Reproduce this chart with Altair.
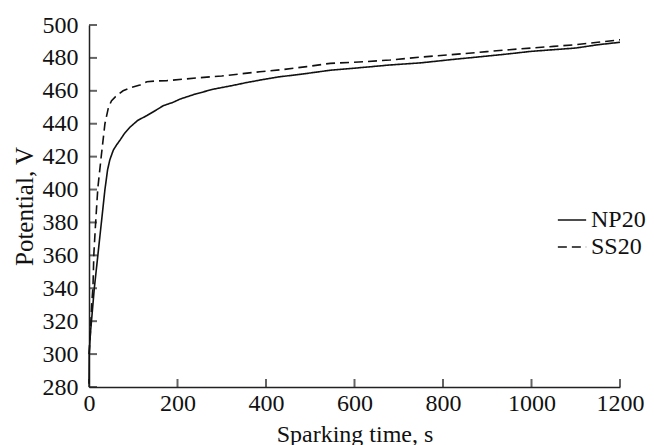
import altair as alt
import pandas as pd

# Series
np20_time = [0, 0.5, 3, 12, 20, 28, 36, 42, 47, 55, 62, 70, 80, 93, 110, 131, 150, 168, 190, 206, 240, 281, 320, 356, 386, 430, 477, 545, 610, 680, 750, 820, 884, 950, 1000, 1050, 1100, 1150, 1200]
np20_pot = [282, 300, 312, 340, 360, 380, 400, 412, 418, 424, 427, 430, 434, 438, 442, 445, 448, 451, 453, 455, 458, 461, 463, 465, 466.5, 468.5, 470, 472.5, 474, 475.7, 477, 479, 480.7, 482.5, 484, 485, 486, 488, 489.5]

ss20_time = [0, 3, 6, 9, 11, 15, 20, 28, 36, 44, 51, 60, 77, 95, 115, 131, 150, 176, 210, 251, 300, 386, 440, 492, 545, 610, 680, 750, 820, 899, 950, 1000, 1050, 1100, 1150, 1200]
ss20_pot = [300, 312, 330, 341, 361, 380, 401, 421, 440, 450, 454, 456.5, 460, 462, 463.5, 465.5, 466, 466.2, 467, 468, 469, 471.6, 473, 474.7, 476.7, 477.5, 478.7, 480.5, 482, 483.8, 485, 486, 487, 488, 489.5, 491]

series_names = ["NP20", "SS20"]
y_ticks = [280, 300, 320, 340, 360, 380, 400, 420, 440, 460, 480, 500]
x_ticks = [0, 200, 400, 600, 800, 1000, 1200]

rows = []
for i, (t, v) in enumerate(zip(np20_time, np20_pot)):
    rows.append({"series": series_names[0], "time": t, "pot": v, "idx": i})
for i, (t, v) in enumerate(zip(ss20_time, ss20_pot)):
    rows.append({"series": series_names[1], "time": t, "pot": v, "idx": i})
df = pd.DataFrame(rows)

W, H = 531, 362
FONT = "Liberation Serif"
INK = "#111111"
AX = "#222222"

xscale = alt.Scale(domain=[0, 1200], nice=False, zero=False)
yscale = alt.Scale(domain=[280, 500], nice=False, zero=False)

xaxis = alt.Axis(title="Sparking time, s", values=x_ticks, ticks=False, format="d",
                 labelPadding=4, titlePadding=7, domainColor=AX, labelFlush=False,
                 domainWidth=1.5, labelFontSize=24, titleFontSize=24,
                 labelFont=FONT, titleFont=FONT, labelColor="#111",
                 labelOverlap=False,
                 titleColor="#111", titleFontWeight="normal", grid=False)
yaxis = alt.Axis(title="Potential, V", values=y_ticks, ticks=False, format="d",
                 labelPadding=11, titlePadding=5, domainColor=AX, labelFlush=False,
                 domainWidth=1.5, labelFontSize=24, titleFontSize=25,
                 labelFont=FONT, titleFont=FONT, labelColor="#111",
                 labelOverlap=False,
                 titleColor="#111", titleFontWeight="normal", grid=False)

ydf = pd.DataFrame({"yv": y_ticks})
xdf = pd.DataFrame({"xv": x_ticks})

# inward tick marks
yt = alt.Chart(ydf).mark_tick(color=AX, thickness=2, size=8, orient="horizontal").encode(
    y=alt.Y("yv:Q", scale=yscale, axis=yaxis), x=alt.value(4))
xt = alt.Chart(xdf).mark_tick(color=AX, thickness=2, size=8, orient="vertical").encode(
    x=alt.X("xv:Q", scale=xscale, axis=xaxis), y=alt.value(H - 4))

lines = alt.Chart(df).mark_line(color=INK, strokeWidth=1.6).encode(
    x=alt.X("time:Q", scale=xscale, axis=xaxis),
    y=alt.Y("pot:Q", scale=yscale, axis=yaxis),
    strokeDash=alt.StrokeDash("series:N",
                              scale=alt.Scale(domain=series_names, range=[[1, 0], [9, 5]]),
                              legend=alt.Legend(title=None, orient="none", legendX=468, legendY=180,
                                                symbolType="stroke", symbolSize=800,
                                                symbolStrokeColor=INK, symbolStrokeWidth=1.5,
                                                labelFont=FONT, labelFontSize=24, labelColor="#111",
                                                labelOffset=4, padding=0, rowPadding=0)),
    detail="series:N",
    order="idx:Q",
)

chart = alt.layer(yt, xt, lines).properties(
    width=W, height=H,
    autosize=alt.AutoSizeParams(type="none"),
    padding={"left": 81, "top": 17, "right": 26, "bottom": 58},
    background="white",
).configure_view(stroke=None)

chart.save("out.html", embed_options={"renderer": "svg", "actions": False})
